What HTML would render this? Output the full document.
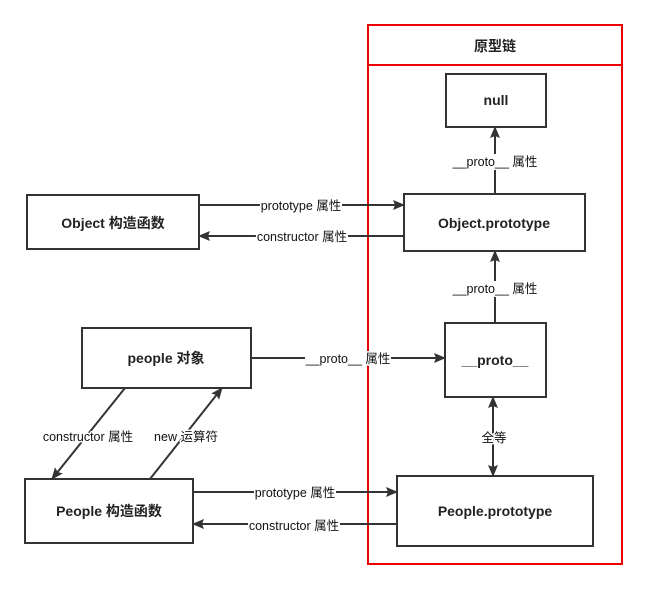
<!DOCTYPE html>
<html><head><meta charset="utf-8"><style>
body{margin:0;background:#fff;width:646px;height:590px;overflow:hidden}
svg text{font-family:"Liberation Sans","Noto Sans CJK SC",sans-serif}
.n{font-size:14px;font-weight:bold;fill:#222}
.l text{font-size:12.5px;fill:#111;stroke:#fff;stroke-width:3px;paint-order:stroke;stroke-linejoin:round}
.l rect{fill:#fff}
</style></head><body>
<svg width="646" height="590" viewBox="0 0 646 590" xmlns="http://www.w3.org/2000/svg">
<defs><marker id="a" markerWidth="12" markerHeight="12" refX="11" refY="6" orient="auto" markerUnits="userSpaceOnUse"><path d="M0,1 L12,6 L0,11 L2,6 Z" fill="#333"/></marker></defs>
<rect x="368" y="25" width="254" height="539" fill="none" stroke="#e00" stroke-width="2"/>
<line x1="368" y1="65" x2="622" y2="65" stroke="#e00" stroke-width="2"/>
<text x="495" y="51" text-anchor="middle" class="n">原型链</text>
<g fill="#fff" stroke="#333" stroke-width="2">
<rect x="446" y="74" width="100" height="53"/>
<rect x="404" y="194" width="181" height="57"/>
<rect x="27" y="195" width="172" height="54"/>
<rect x="82" y="328" width="169" height="60"/>
<rect x="445" y="323" width="101" height="74"/>
<rect x="25" y="479" width="168" height="64"/>
<rect x="397" y="476" width="196" height="70"/>
</g>
<g class="n" text-anchor="middle">
<text x="496" y="105">null</text>
<text x="494" y="228">Object.prototype</text>
<text x="113" y="228">Object 构造函数</text>
<text x="166" y="363">people 对象</text>
<text x="495" y="365">__proto__</text>
<text x="109" y="516">People 构造函数</text>
<text x="495" y="516">People.prototype</text>
</g>
<g stroke="#333" stroke-width="2" fill="none" marker-end="url(#a)">
<line x1="199" y1="205" x2="404" y2="205"/>
<line x1="404" y1="236" x2="199" y2="236"/>
<line x1="495" y1="194" x2="495" y2="127"/>
<line x1="495" y1="323" x2="495" y2="251"/>
<line x1="251" y1="358" x2="445" y2="358"/>
<line x1="493" y1="437" x2="493" y2="397"/>
<line x1="493" y1="437" x2="493" y2="476"/>
<line x1="193" y1="492" x2="397" y2="492"/>
<line x1="397" y1="524" x2="193" y2="524"/>
<line x1="125" y1="388" x2="52" y2="479"/>
<line x1="150" y1="479" x2="222" y2="388"/>
</g>
<g class="l" text-anchor="middle">
<rect x="260" y="198" width="82" height="14"/><text x="301" y="210">prototype 属性</text>
<rect x="256" y="229" width="92" height="14"/><text x="302" y="241">constructor 属性</text>
<rect x="452" y="154" width="86" height="14"/><text x="495" y="166">__proto__ 属性</text>
<rect x="452" y="281" width="86" height="14"/><text x="495" y="293">__proto__ 属性</text>
<rect x="305" y="351" width="86" height="14"/><text x="348" y="363">__proto__ 属性</text>
<rect x="254" y="485" width="82" height="14"/><text x="295" y="497">prototype 属性</text>
<rect x="248" y="518" width="92" height="14"/><text x="294" y="530">constructor 属性</text>
<text x="494" y="442">全等</text>
<text x="88" y="441">constructor 属性</text>
<text x="186" y="441">new 运算符</text>
</g>
</svg>
</body></html>
